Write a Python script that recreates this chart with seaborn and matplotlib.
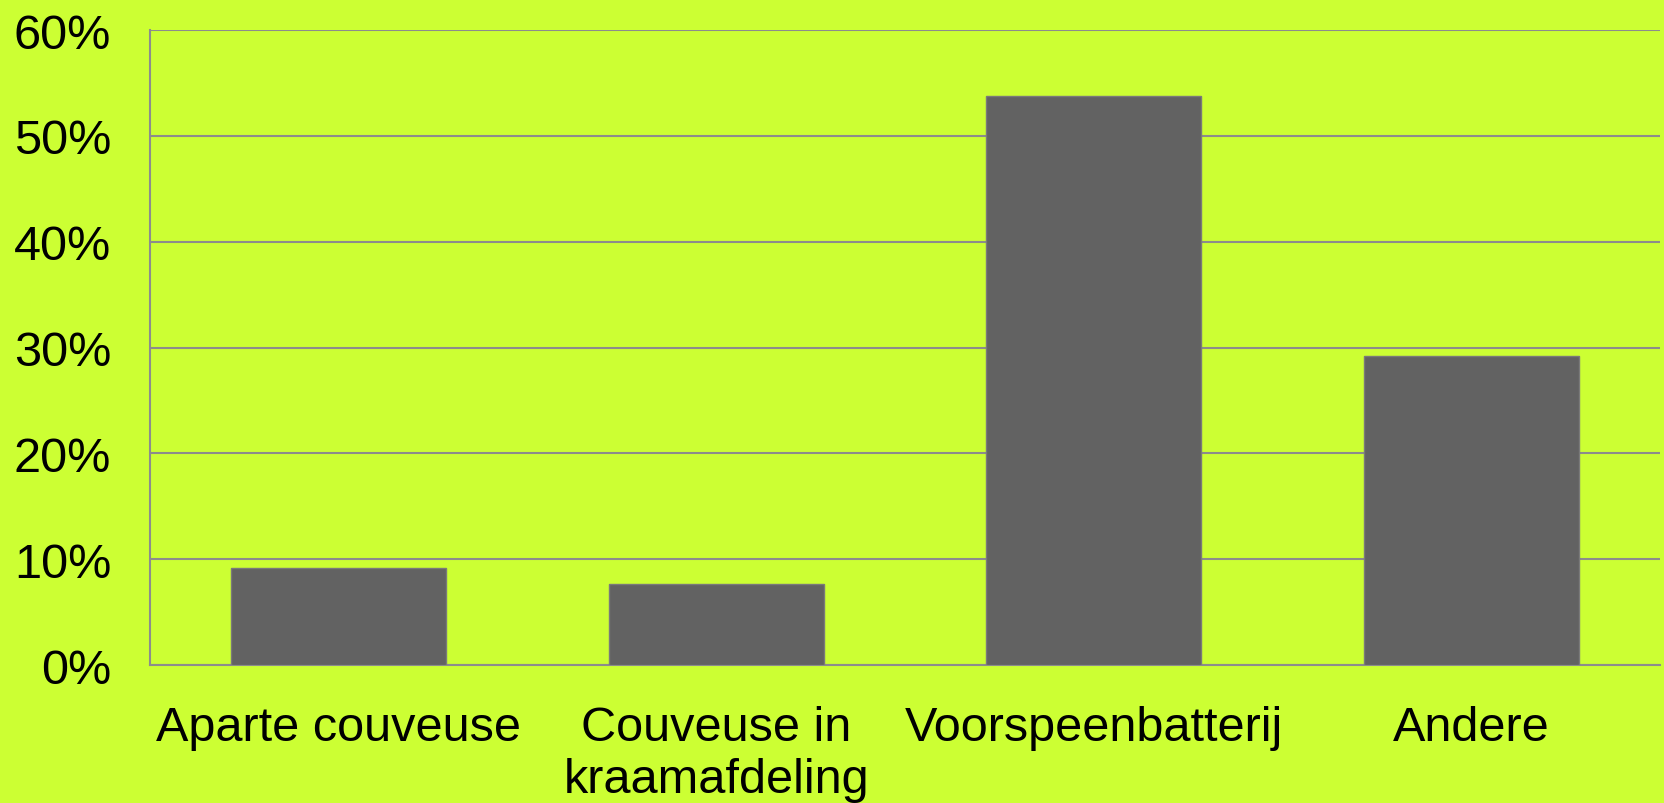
import matplotlib
matplotlib.use("Agg")
import matplotlib.pyplot as plt
import pandas as pd
import seaborn as sns
from matplotlib.ticker import PercentFormatter

categories = ["Aparte couveuse", "Couveuse in\nkraamafdeling", "Voorspeenbatterij", "Andere"]
shares = [9.2, 7.7, 53.8, 29.2]

BG = "#ccff33"
BAR = "#626262"
GRID = "#8c8c8c"

df = pd.DataFrame({"categorie": categories, "aandeel": shares})

sns.set_style("white")
plt.rcParams["font.family"] = ["Liberation Sans", "DejaVu Sans"]

fig = plt.figure(figsize=(16.65, 8.04), dpi=100, facecolor=BG)
ax = fig.add_axes([0.0901, 0.1716, 0.9069, 0.7898])
ax.set_facecolor(BG)

sns.barplot(data=df, x="categorie", y="aandeel", color=BAR, width=0.57,
            saturation=1, edgecolor="#7a7a7a", linewidth=1, ax=ax, zorder=3)

ax.set_ylim(0, 60)
ax.set_xlim(-0.5, len(categories) - 0.5)
ax.set_yticks(range(0, 61, 10))
ax.yaxis.set_major_formatter(PercentFormatter(decimals=0))
ax.yaxis.grid(True, color=GRID, linewidth=1.5, zorder=0)
ax.set_axisbelow(True)

for side in ["top", "right"]:
    ax.spines[side].set_visible(False)
for side in ["left", "bottom"]:
    ax.spines[side].set_color(GRID)
    ax.spines[side].set_linewidth(1.5)

ax.tick_params(axis="y", length=0, pad=28, labelsize=35, labelcolor="black")
ax.tick_params(axis="x", length=0, pad=29, labelsize=35, labelcolor="black")
ax.set_xlabel("")
ax.set_ylabel("")

fig.savefig("out.png", dpi=100, facecolor=BG)
